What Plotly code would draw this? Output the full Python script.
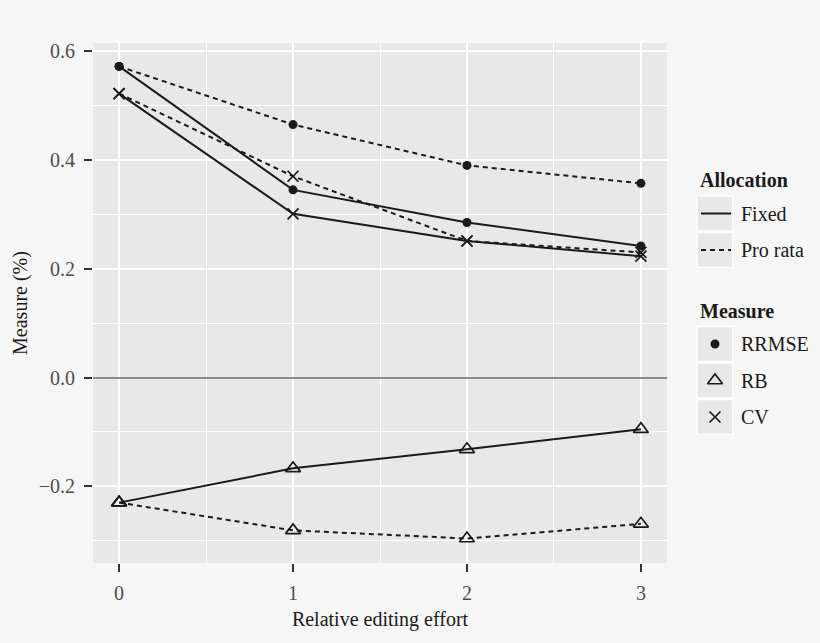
import plotly.graph_objects as go

# relative editing effort (x) and the six measure series
effort = [0, 1, 2, 3]

fixed_rrmse = [0.572, 0.345, 0.285, 0.242]
prorata_rrmse = [0.572, 0.465, 0.390, 0.357]
fixed_cv = [0.522, 0.301, 0.251, 0.223]
prorata_cv = [0.522, 0.370, 0.251, 0.230]
fixed_rb = [-0.230, -0.167, -0.132, -0.095]
prorata_rb = [-0.230, -0.281, -0.296, -0.269]

allocation_labels = ["Fixed", "Pro rata"]
measure_labels = ["RRMSE", "RB", "CV"]

ink = "#1a1a1a"
paper_col = "#f6f6f6"
panel_col = "#e8e8e8"
serif = "Liberation Serif, Times New Roman, serif"

dash_style = {"Fixed": "solid", "Pro rata": "5px,4px"}
markers = {
    "RRMSE": dict(symbol="circle", size=9, color=ink),
    "RB": dict(symbol="triangle-up-open", size=13, color=ink, line=dict(width=1.7, color=ink)),
    "CV": dict(symbol="x-thin-open", size=11, color=ink, line=dict(width=1.7, color=ink)),
}

series = [
    ("Fixed", "RRMSE", fixed_rrmse),
    ("Pro rata", "RRMSE", prorata_rrmse),
    ("Fixed", "CV", fixed_cv),
    ("Pro rata", "CV", prorata_cv),
    ("Fixed", "RB", fixed_rb),
    ("Pro rata", "RB", prorata_rb),
]

fig = go.Figure()

for alloc, meas, vals in series:
    fig.add_trace(go.Scatter(
        x=effort, y=vals, mode="lines+markers",
        line=dict(color=ink, width=2, dash=dash_style[alloc]),
        marker=markers[meas],
        showlegend=False, hoverinfo="skip",
    ))

# hand-built legend on a hidden axis pair (pixel-like units)
box_x0, box_x1, text_x = 697, 733, 739
legend_shapes = []

fig.add_annotation(x=698, y=180, xref="x2", yref="y2", text="<b>Allocation</b>",
                   showarrow=False, xanchor="left", yanchor="middle",
                   font=dict(family=serif, size=20, color=ink))
alloc_rows = [(196, 231), (232.5, 267.5)]
for (y0, y1), lab in zip(alloc_rows, allocation_labels):
    legend_shapes.append(dict(type="rect", xref="x2", yref="y2", x0=box_x0, x1=box_x1,
                              y0=y0, y1=y1, fillcolor=panel_col,
                              line=dict(color="white", width=1.5), layer="below"))
    yc = (y0 + y1) / 2
    fig.add_trace(go.Scatter(x=[701, 731], y=[yc, yc], mode="lines", xaxis="x2", yaxis="y2",
                             line=dict(color=ink, width=2, dash=dash_style[lab]),
                             showlegend=False, hoverinfo="skip"))
    fig.add_annotation(x=text_x, y=yc, xref="x2", yref="y2", text=lab, showarrow=False,
                       xanchor="left", yanchor="middle",
                       font=dict(family=serif, size=20, color=ink))

fig.add_annotation(x=698, y=311, xref="x2", yref="y2", text="<b>Measure</b>",
                   showarrow=False, xanchor="left", yanchor="middle",
                   font=dict(family=serif, size=20, color=ink))
meas_rows = [(326.5, 361.5), (363, 398), (399.5, 434.5)]
for (y0, y1), lab in zip(meas_rows, measure_labels):
    legend_shapes.append(dict(type="rect", xref="x2", yref="y2", x0=box_x0, x1=box_x1,
                              y0=y0, y1=y1, fillcolor=panel_col,
                              line=dict(color="white", width=1.5), layer="below"))
    yc = (y0 + y1) / 2
    fig.add_trace(go.Scatter(x=[715], y=[yc], mode="markers", xaxis="x2", yaxis="y2",
                             marker=markers[lab], showlegend=False, hoverinfo="skip"))
    fig.add_annotation(x=text_x, y=yc, xref="x2", yref="y2", text=lab, showarrow=False,
                       xanchor="left", yanchor="middle",
                       font=dict(family=serif, size=20, color=ink))

panel = dict(type="rect", xref="x domain", yref="y domain", x0=0, x1=1, y0=0, y1=1,
             fillcolor=panel_col, line=dict(width=0), layer="below")

fig.update_layout(
    width=820, height=643,
    margin=dict(l=93, r=10, t=43, b=80),
    paper_bgcolor=paper_col, plot_bgcolor=paper_col,
    font=dict(family=serif, size=20, color=ink),
    shapes=[panel] + legend_shapes,
    xaxis=dict(
        domain=[0, 574 / 717], range=[-0.15, 3.15],
        tickvals=effort, ticktext=[str(v) for v in effort],
        ticks="outside", ticklen=8, tickwidth=1.5, tickcolor="#333333",
        ticklabelstandoff=4,
        tickfont=dict(family=serif, size=20, color="#4d4d4d"),
        showgrid=True, gridcolor="white", gridwidth=1.6, zeroline=False, showline=False,
        minor=dict(dtick=0.5, tick0=0, showgrid=True, gridcolor="white", gridwidth=0.8),
        title=dict(text="Relative editing effort", standoff=8,
                   font=dict(family=serif, size=20, color=ink)),
    ),
    yaxis=dict(
        range=[-0.341, 0.615], tick0=0, dtick=0.2, tickformat=".1f",
        ticks="outside", ticklen=8, tickwidth=1.5, tickcolor="#333333",
        ticklabelstandoff=5,
        tickfont=dict(family=serif, size=20, color="#4d4d4d"),
        showgrid=True, gridcolor="white", gridwidth=1.6,
        zeroline=True, zerolinecolor="#8c8c8c", zerolinewidth=1.6, showline=False,
        minor=dict(dtick=0.1, tick0=0, showgrid=True, gridcolor="white", gridwidth=0.8),
        title=dict(text="Measure (%)", standoff=5,
                   font=dict(family=serif, size=20, color=ink)),
    ),
    xaxis2=dict(domain=[0.81, 1], range=[93 + 0.81 * 717, 810], visible=False,
                anchor="y2", fixedrange=True),
    yaxis2=dict(domain=[0, 1], range=[563, 43], visible=False, anchor="x2",
                fixedrange=True),
)

fig.write_html("out.html", config={"displayModeBar": False},
               post_script="document.body.style.margin = '0';")
